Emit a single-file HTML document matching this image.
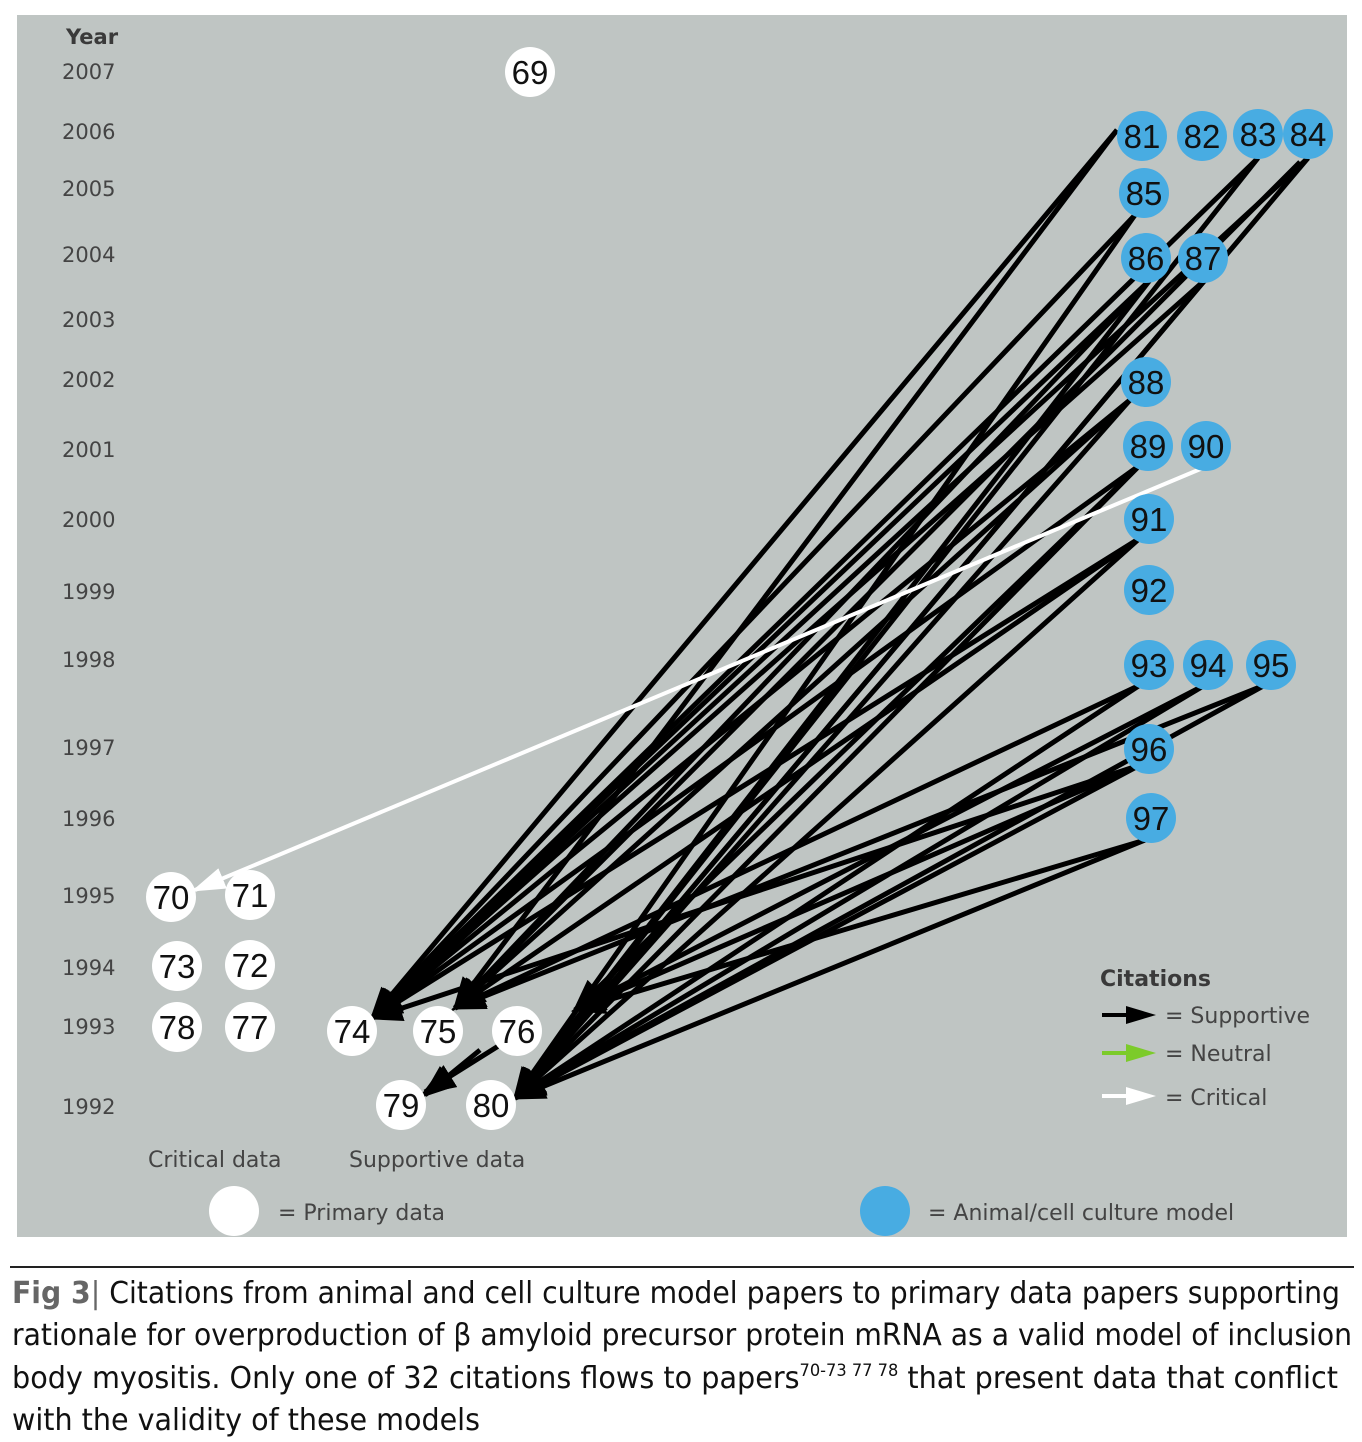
<!DOCTYPE html>
<html><head><meta charset="utf-8"><style>
body{margin:0;background:#fff;}
svg{display:block;}
.yr{font-family:"DejaVu Sans","Liberation Sans",sans-serif;font-size:21px;fill:#444;}
.n{font-family:"Liberation Sans",Arial,sans-serif;font-size:33px;fill:#111;text-anchor:middle;}
.lg{font-family:"DejaVu Sans","Liberation Sans",sans-serif;font-size:22px;fill:#444;}
.cap{font-family:"Liberation Sans Narrow","DejaVu Sans Condensed","Liberation Sans",sans-serif;font-size:30px;fill:#111;}
</style></head><body>
<svg width="1362" height="1442" viewBox="0 0 1362 1442" xmlns="http://www.w3.org/2000/svg">
<defs>
<marker id="a" markerUnits="userSpaceOnUse" markerWidth="34" markerHeight="26" refX="30" refY="13" orient="auto"><path d="M0,0 L34,13 L0,26 Z" fill="#000"/></marker>
<marker id="w" markerUnits="userSpaceOnUse" markerWidth="34" markerHeight="22" refX="30" refY="11" orient="auto"><path d="M0,0 L34,11 L0,22 Z" fill="#fff"/></marker>
</defs>
<rect x="17" y="15" width="1330" height="1222" fill="#bfc5c3"/>
<g class="yr">
<text x="66" y="44" style="font-weight:bold;fill:#3a3a3a">Year</text>
<text x="62" y="79">2007</text><text x="62" y="139">2006</text><text x="62" y="196">2005</text>
<text x="62" y="262">2004</text><text x="62" y="327">2003</text><text x="62" y="387">2002</text>
<text x="62" y="457">2001</text><text x="62" y="527">2000</text><text x="62" y="599">1999</text>
<text x="62" y="667">1998</text><text x="62" y="755">1997</text><text x="62" y="826">1996</text>
<text x="62" y="903">1995</text><text x="62" y="975">1994</text><text x="62" y="1034">1993</text>
<text x="62" y="1114">1992</text>
</g>
<g stroke="#000" stroke-width="5" fill="none" marker-end="url(#a)">
<path d="M1117,130 L372,1018"/><path d="M1117,130 L455,1008"/>
<path d="M1258,158 L372,1018"/><path d="M1258,158 L515,1098"/>
<path d="M1308,158 L372,1018"/><path d="M1308,158 L515,1098"/><path d="M1300,162 L455,1008"/>
<path d="M1135,215 L372,1018"/><path d="M1135,215 L515,1098"/>
<path d="M1150,280 L372,1018"/><path d="M1150,280 L455,1008"/><path d="M1150,280 L515,1098"/>
<path d="M1205,280 L372,1018"/><path d="M1205,280 L515,1098"/>
<path d="M1130,400 L372,1018"/><path d="M1130,400 L455,1008"/><path d="M1130,400 L515,1098"/>
<path d="M1140,465 L372,1018"/><path d="M1140,465 L575,1010"/><path d="M1140,465 L515,1098"/>
<path d="M1140,538 L372,1018"/><path d="M1140,538 L455,1008"/><path d="M1140,538 L515,1098"/>
<path d="M1140,685 L455,1008"/><path d="M1140,685 L515,1098"/>
<path d="M1205,685 L575,1010"/><path d="M1205,685 L515,1098"/>
<path d="M1265,685 L455,1008"/><path d="M1265,685 L515,1098"/>
<path d="M1140,765 L372,1018"/><path d="M1140,765 L575,1010"/><path d="M1140,765 L515,1098"/>
<path d="M1145,840 L515,1098"/><path d="M1145,840 L575,1010"/>
<path d="M500,1045 L425,1092"/><path d="M480,1050 L425,1095"/>
</g>
<path d="M1210,465 L195,890" stroke="#fff" stroke-width="4" marker-end="url(#w)"/>
<g fill="#fff">
<circle cx="530" cy="72" r="25"/><circle cx="171" cy="897" r="25"/><circle cx="250" cy="895" r="25"/>
<circle cx="177" cy="966" r="25"/><circle cx="250" cy="965" r="25"/><circle cx="177" cy="1027" r="25"/>
<circle cx="250" cy="1027" r="25"/><circle cx="352" cy="1031" r="25"/><circle cx="438" cy="1031" r="25"/>
<circle cx="517" cy="1031" r="25"/><circle cx="401" cy="1105" r="25"/><circle cx="491" cy="1105" r="25"/>
</g>
<g fill="#48ace2">
<circle cx="1142" cy="136" r="25"/><circle cx="1202" cy="136" r="25"/><circle cx="1258" cy="134" r="25"/><circle cx="1308" cy="134" r="25"/>
<circle cx="1144" cy="193" r="25"/><circle cx="1146" cy="258" r="25"/><circle cx="1203" cy="258" r="25"/>
<circle cx="1146" cy="382" r="25"/><circle cx="1148" cy="446" r="25"/><circle cx="1206" cy="446" r="25"/>
<circle cx="1149" cy="519" r="25"/><circle cx="1149" cy="590" r="25"/><circle cx="1149" cy="665" r="25"/>
<circle cx="1208" cy="665" r="25"/><circle cx="1271" cy="665" r="25"/><circle cx="1149" cy="749" r="25"/>
<circle cx="1151" cy="818" r="25"/>
</g>
<g class="n">
<text x="530" y="84">69</text><text x="171" y="909">70</text><text x="250" y="907">71</text>
<text x="177" y="978">73</text><text x="250" y="977">72</text><text x="177" y="1039">78</text>
<text x="250" y="1039">77</text><text x="352" y="1043">74</text><text x="438" y="1043">75</text>
<text x="517" y="1043">76</text><text x="401" y="1117">79</text><text x="491" y="1117">80</text>
<text x="1142" y="148">81</text><text x="1202" y="148">82</text><text x="1258" y="146">83</text><text x="1308" y="146">84</text>
<text x="1144" y="205">85</text><text x="1146" y="270">86</text><text x="1203" y="270">87</text>
<text x="1146" y="394">88</text><text x="1148" y="458">89</text><text x="1206" y="458">90</text>
<text x="1149" y="531">91</text><text x="1149" y="602">92</text><text x="1149" y="677">93</text>
<text x="1208" y="677">94</text><text x="1271" y="677">95</text><text x="1149" y="761">96</text>
<text x="1151" y="830">97</text>
</g>
<g class="lg">
<text x="1100" y="986" style="font-weight:bold;fill:#3a3a3a">Citations</text>
<text x="1165" y="1023">= Supportive</text>
<text x="1165" y="1061">= Neutral</text>
<text x="1165" y="1105">= Critical</text>
<text x="148" y="1167">Critical data</text>
<text x="349" y="1167">Supportive data</text>
<text x="278" y="1220">= Primary data</text>
<text x="928" y="1220">= Animal/cell culture model</text>
</g>
<line x1="1102" y1="1015" x2="1130" y2="1015" stroke="#000" stroke-width="4"/><path d="M1126,1006 L1156,1015 L1126,1024Z" fill="#000"/>
<line x1="1102" y1="1053" x2="1130" y2="1053" stroke="#7ccb2a" stroke-width="4"/><path d="M1126,1044 L1156,1053 L1126,1062Z" fill="#7ccb2a"/>
<line x1="1102" y1="1096" x2="1130" y2="1096" stroke="#fff" stroke-width="4"/><path d="M1126,1087 L1156,1096 L1126,1105Z" fill="#fff"/>
<circle cx="234" cy="1211" r="25" fill="#fff"/>
<circle cx="885" cy="1211" r="25" fill="#48ace2"/>
<line x1="10" y1="1267" x2="1354" y2="1267" stroke="#222" stroke-width="2"/>
<g class="cap">
<text x="12" y="1303" textLength="1328" lengthAdjust="spacingAndGlyphs"><tspan style="font-weight:bold;fill:#666">Fig 3</tspan><tspan fill="#666">| </tspan>Citations from animal and cell culture model papers to primary data papers supporting</text>
<text x="12" y="1345" textLength="1340" lengthAdjust="spacingAndGlyphs">rationale for overproduction of β amyloid precursor protein mRNA as a valid model of inclusion</text>
<text x="12" y="1388" textLength="1326" lengthAdjust="spacingAndGlyphs">body myositis. Only one of 32 citations flows to papers<tspan dy="-12" style="font-size:17px">70-73 77 78</tspan><tspan dy="12"> that present data that conflict</tspan></text>
<text x="12" y="1430" textLength="468" lengthAdjust="spacingAndGlyphs">with the validity of these models</text>
</g>
</svg>
</body></html>
